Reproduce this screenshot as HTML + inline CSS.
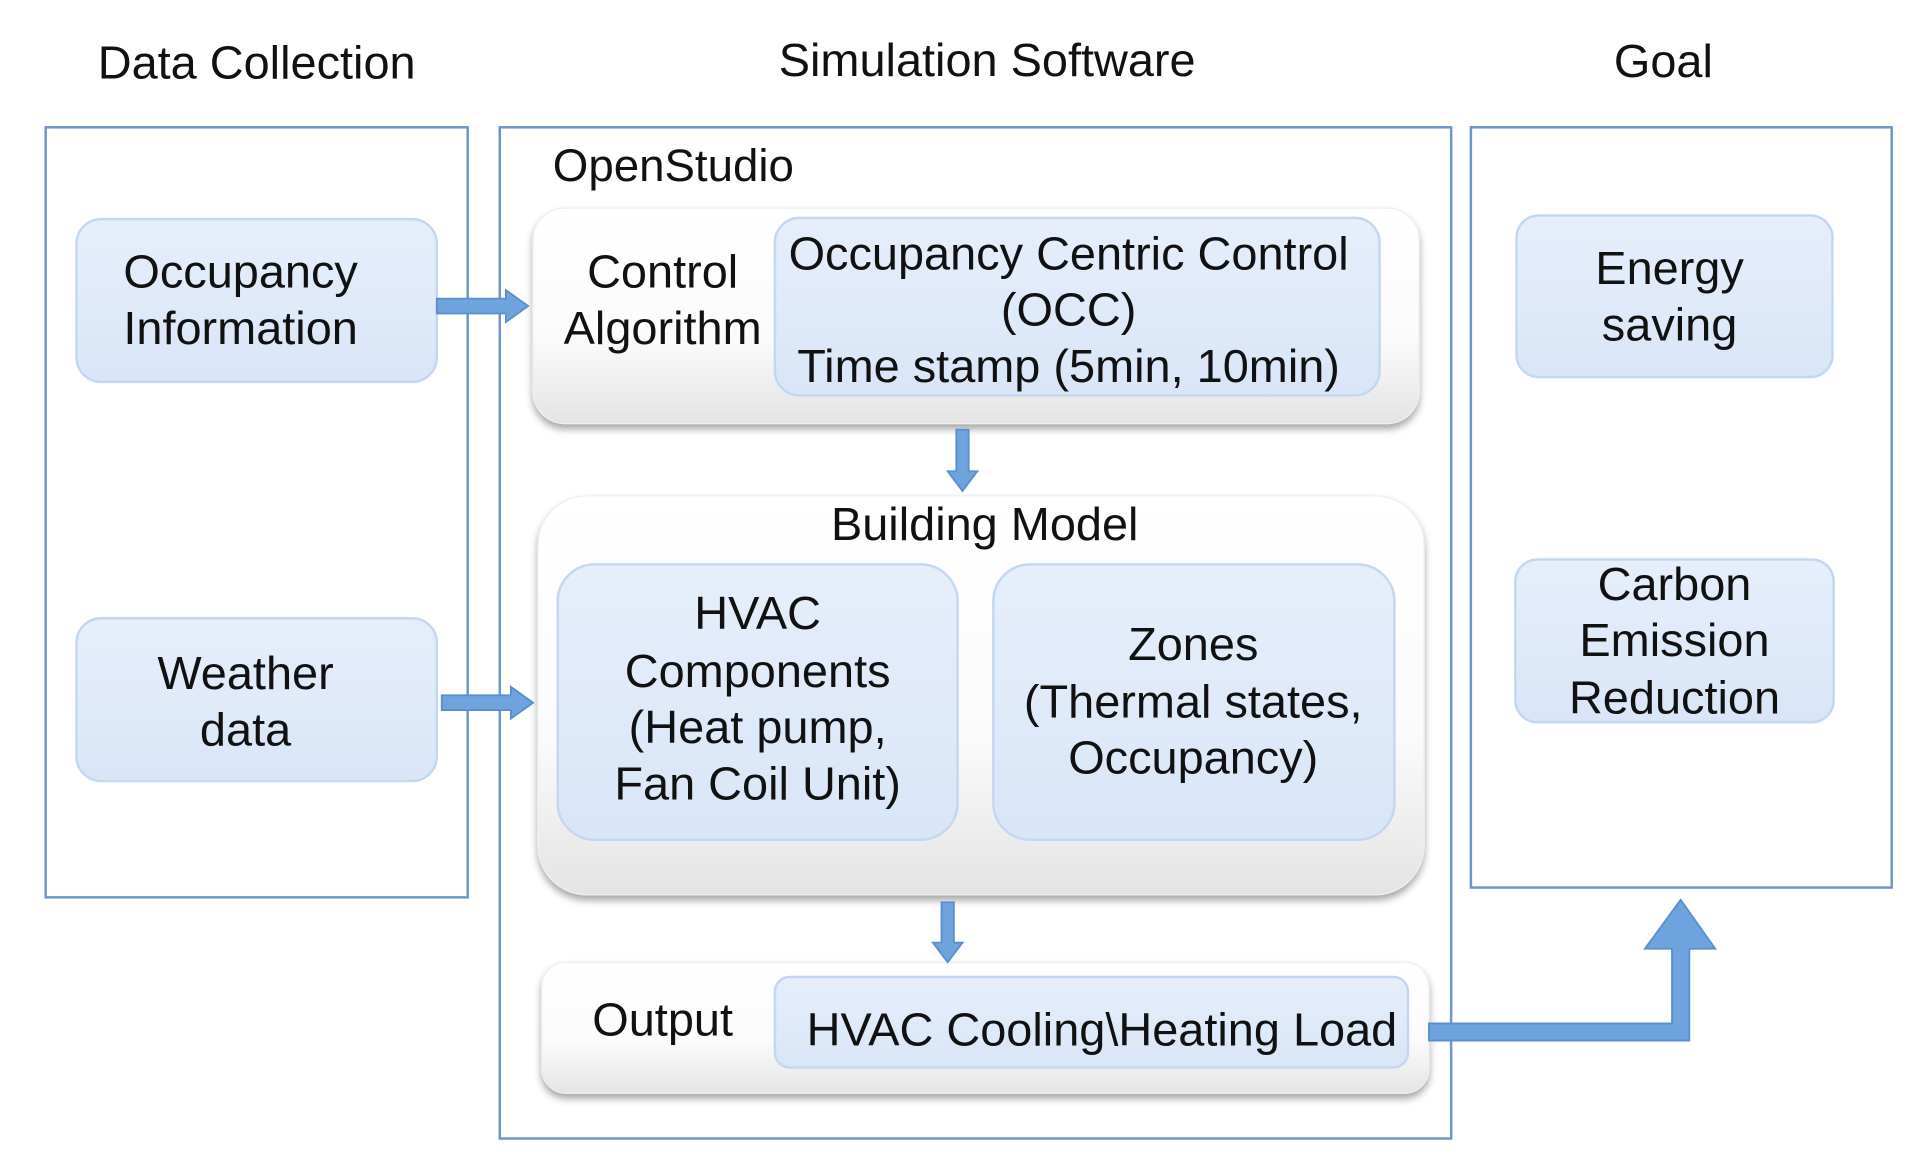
<!DOCTYPE html>
<html><head><style>html,body{margin:0;padding:0;background:#fff}svg{display:block}</style></head>
<body>
<svg width="1925" height="1163" viewBox="0 0 1560 950" preserveAspectRatio="none" xmlns="http://www.w3.org/2000/svg" font-family="Liberation Sans, sans-serif" fill="#111">
<defs>
<linearGradient id="bl" x1="0" y1="0" x2="0" y2="1"><stop offset="0" stop-color="#e6eefa"/><stop offset="1" stop-color="#d9e6f8"/></linearGradient>
<linearGradient id="wh" x1="0" y1="0" x2="0" y2="1"><stop offset="0" stop-color="#ffffff"/><stop offset="0.6" stop-color="#fbfbfb"/><stop offset="1" stop-color="#e4e4e4"/></linearGradient>
<filter id="sh" x="-5%" y="-5%" width="110%" height="120%"><feDropShadow dx="0" dy="4" stdDeviation="3" flood-color="#000" flood-opacity="0.35"/></filter>
</defs>
<g font-size="38" text-anchor="middle">
<text x="208" y="64">Data Collection</text>
<text x="800" y="62">Simulation Software</text>
<text x="1348" y="63">Goal</text>
</g>
<g fill="none" stroke="#6b95cc" stroke-width="2">
<rect x="37" y="104" width="342" height="629"/>
<rect x="405" y="104" width="771" height="826"/>
<rect x="1192" y="104" width="341" height="621"/>
</g>
<text x="448" y="148" font-size="37">OpenStudio</text>
<g stroke="#c4d7f0" stroke-width="2" fill="url(#bl)">
<rect x="62" y="179" width="292" height="133" rx="20"/>
<rect x="62" y="505" width="292" height="133" rx="20"/>
<rect x="1229" y="176" width="256" height="132" rx="18"/>
<rect x="1228" y="457" width="258" height="133" rx="18"/>
</g>
<g fill="url(#wh)" filter="url(#sh)" stroke="#eee" stroke-width="1">
<rect x="432" y="170" width="718" height="176" rx="26"/>
<rect x="436" y="405" width="718" height="326" rx="40"/>
<rect x="439" y="786" width="719" height="107" rx="20"/>
</g>
<g stroke="#c4d7f0" stroke-width="2" fill="url(#bl)">
<rect x="628" y="178" width="490" height="145" rx="20"/>
<rect x="452" y="461" width="324" height="225" rx="30"/>
<rect x="805" y="461" width="325" height="225" rx="30"/>
<rect x="628" y="798" width="513" height="74" rx="12"/>
</g>
<g font-size="38" text-anchor="middle">
<text x="195" y="235">Occupancy</text><text x="195" y="281">Information</text>
<text x="199" y="563">Weather</text><text x="199" y="609">data</text>
<text x="537" y="235">Control</text><text x="537" y="281">Algorithm</text>
<text x="866" y="220">Occupancy Centric Control</text>
<text x="866" y="266">(OCC)</text>
<text x="866" y="312">Time stamp (5min, 10min)</text>
<text x="798" y="441">Building Model</text>
<text x="614" y="514">HVAC</text><text x="614" y="561">Components</text><text x="614" y="607">(Heat pump,</text><text x="614" y="653">Fan Coil Unit)</text>
<text x="967" y="539">Zones</text><text x="967" y="586">(Thermal states,</text><text x="967" y="632">Occupancy)</text>
<text x="537" y="846">Output</text>
<text x="893" y="854">HVAC Cooling\Heating Load</text>
<text x="1353" y="232">Energy</text><text x="1353" y="278">saving</text>
<text x="1357" y="490">Carbon</text><text x="1357" y="536">Emission</text><text x="1357" y="583">Reduction</text>
</g>
<g fill="#6fa3dd" stroke="#5a8fcf" stroke-width="1.5">
<polygon points="354,244 410,244 410,237 428,250 410,263 410,256 354,256"/>
<polygon points="358,568 414,568 414,561 432,574 414,587 414,580 358,580"/>
<polygon points="775,351 785,351 785,385 792,385 780,401 768,385 775,385"/>
<polygon points="763,737 773,737 773,770 780,770 768,786 756,770 763,770"/>
<polygon points="1158,836 1355,836 1355,775 1333,775 1362,735 1390,775 1369,775 1369,850 1158,850"/>
</g>
</svg>
</body></html>
